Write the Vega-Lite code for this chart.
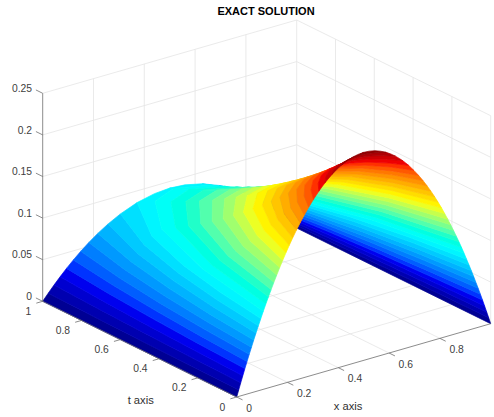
{"$schema":"https://vega.github.io/schema/vega-lite/v6.json","width":494,"height":397,"autosize":{"type":"none"},"padding":{"left":0,"right":0,"top":20,"bottom":0},"background":"white","config":{"view":{"stroke":null}},
"title":{"text":"EXACT SOLUTION","font":"Liberation Sans","fontSize":11,"fontWeight":"bold","color":"#000000","anchor":"middle","dx":19,"offset":1},
"datasets":{
"surface":[
{"b":0,"x":0,"t":0,"u":0},{"b":0,"x":0,"t":1,"u":0},{"b":0,"x":0.0217,"t":1,"u":0.0078},{"b":0,"x":0.0168,"t":0.75,"u":0.0078},{"b":0,"x":0.013,"t":0.5,"u":0.0078},{"b":0,"x":0.0101,"t":0.25,"u":0.0078},{"b":0,"x":0.0079,"t":0,"u":0.0078},
{"b":1,"x":0.0079,"t":0,"u":0.0078},{"b":1,"x":0.0101,"t":0.25,"u":0.0078},{"b":1,"x":0.013,"t":0.5,"u":0.0078},{"b":1,"x":0.0168,"t":0.75,"u":0.0078},{"b":1,"x":0.0217,"t":1,"u":0.0078},{"b":1,"x":0.0445,"t":1,"u":0.0156},{"b":1,"x":0.0343,"t":0.75,"u":0.0156},{"b":1,"x":0.0265,"t":0.5,"u":0.0156},{"b":1,"x":0.0205,"t":0.25,"u":0.0156},{"b":1,"x":0.0159,"t":0,"u":0.0156},
{"b":2,"x":0.0159,"t":0,"u":0.0156},{"b":2,"x":0.0205,"t":0.25,"u":0.0156},{"b":2,"x":0.0265,"t":0.5,"u":0.0156},{"b":2,"x":0.0343,"t":0.75,"u":0.0156},{"b":2,"x":0.0445,"t":1,"u":0.0156},{"b":2,"x":0.0684,"t":1,"u":0.0234},{"b":2,"x":0.0524,"t":0.75,"u":0.0234},{"b":2,"x":0.0403,"t":0.5,"u":0.0234},{"b":2,"x":0.0311,"t":0.25,"u":0.0234},{"b":2,"x":0.024,"t":0,"u":0.0234},
{"b":3,"x":0.024,"t":0,"u":0.0234},{"b":3,"x":0.0311,"t":0.25,"u":0.0234},{"b":3,"x":0.0403,"t":0.5,"u":0.0234},{"b":3,"x":0.0524,"t":0.75,"u":0.0234},{"b":3,"x":0.0684,"t":1,"u":0.0234},{"b":3,"x":0.0937,"t":1,"u":0.0313},{"b":3,"x":0.0712,"t":0.75,"u":0.0313},{"b":3,"x":0.0545,"t":0.5,"u":0.0313},{"b":3,"x":0.0419,"t":0.25,"u":0.0313},{"b":3,"x":0.0323,"t":0,"u":0.0313},
{"b":4,"x":0.0323,"t":0,"u":0.0313},{"b":4,"x":0.0419,"t":0.25,"u":0.0313},{"b":4,"x":0.0545,"t":0.5,"u":0.0313},{"b":4,"x":0.0712,"t":0.75,"u":0.0313},{"b":4,"x":0.0937,"t":1,"u":0.0313},{"b":4,"x":0.1208,"t":1,"u":0.0391},{"b":4,"x":0.091,"t":0.75,"u":0.0391},{"b":4,"x":0.0692,"t":0.5,"u":0.0391},{"b":4,"x":0.053,"t":0.25,"u":0.0391},{"b":4,"x":0.0407,"t":0,"u":0.0391},
{"b":5,"x":0.0407,"t":0,"u":0.0391},{"b":5,"x":0.053,"t":0.25,"u":0.0391},{"b":5,"x":0.0692,"t":0.5,"u":0.0391},{"b":5,"x":0.091,"t":0.75,"u":0.0391},{"b":5,"x":0.1208,"t":1,"u":0.0391},{"b":5,"x":0.1499,"t":1,"u":0.0469},{"b":5,"x":0.1117,"t":0.75,"u":0.0469},{"b":5,"x":0.0844,"t":0.5,"u":0.0469},{"b":5,"x":0.0643,"t":0.25,"u":0.0469},{"b":5,"x":0.0493,"t":0,"u":0.0469},
{"b":6,"x":0.0493,"t":0,"u":0.0469},{"b":6,"x":0.0643,"t":0.25,"u":0.0469},{"b":6,"x":0.0844,"t":0.5,"u":0.0469},{"b":6,"x":0.1117,"t":0.75,"u":0.0469},{"b":6,"x":0.1499,"t":1,"u":0.0469},{"b":6,"x":0.1816,"t":1,"u":0.0547},{"b":6,"x":0.1336,"t":0.75,"u":0.0547},{"b":6,"x":0.1002,"t":0.5,"u":0.0547},{"b":6,"x":0.076,"t":0.25,"u":0.0547},{"b":6,"x":0.0581,"t":0,"u":0.0547},
{"b":7,"x":0.0581,"t":0,"u":0.0547},{"b":7,"x":0.076,"t":0.25,"u":0.0547},{"b":7,"x":0.1002,"t":0.5,"u":0.0547},{"b":7,"x":0.1336,"t":0.75,"u":0.0547},{"b":7,"x":0.1816,"t":1,"u":0.0547},{"b":7,"x":0.2169,"t":1,"u":0.0625},{"b":7,"x":0.157,"t":0.75,"u":0.0625},{"b":7,"x":0.1167,"t":0.5,"u":0.0625},{"b":7,"x":0.088,"t":0.25,"u":0.0625},{"b":7,"x":0.067,"t":0,"u":0.0625},
{"b":8,"x":0.067,"t":0,"u":0.0625},{"b":8,"x":0.088,"t":0.25,"u":0.0625},{"b":8,"x":0.1167,"t":0.5,"u":0.0625},{"b":8,"x":0.157,"t":0.75,"u":0.0625},{"b":8,"x":0.2169,"t":1,"u":0.0625},{"b":8,"x":0.2574,"t":1,"u":0.0703},{"b":8,"x":0.182,"t":0.75,"u":0.0703},{"b":8,"x":0.1339,"t":0.5,"u":0.0703},{"b":8,"x":0.1003,"t":0.25,"u":0.0703},{"b":8,"x":0.0761,"t":0,"u":0.0703},
{"b":9,"x":0.0761,"t":0,"u":0.0703},{"b":9,"x":0.1003,"t":0.25,"u":0.0703},{"b":9,"x":0.1339,"t":0.5,"u":0.0703},{"b":9,"x":0.182,"t":0.75,"u":0.0703},{"b":9,"x":0.2574,"t":1,"u":0.0703},{"b":9,"x":0.306,"t":1,"u":0.0781},{"b":9,"x":0.2091,"t":0.75,"u":0.0781},{"b":9,"x":0.1519,"t":0.5,"u":0.0781},{"b":9,"x":0.1131,"t":0.25,"u":0.0781},{"b":9,"x":0.0854,"t":0,"u":0.0781},
{"b":10,"x":0.0854,"t":0,"u":0.0781},{"b":10,"x":0.1131,"t":0.25,"u":0.0781},{"b":10,"x":0.1519,"t":0.5,"u":0.0781},{"b":10,"x":0.2091,"t":0.75,"u":0.0781},{"b":10,"x":0.306,"t":1,"u":0.0781},{"b":10,"x":0.3718,"t":1,"u":0.0859},{"b":10,"x":0.2391,"t":0.75,"u":0.0859},{"b":10,"x":0.171,"t":0.5,"u":0.0859},{"b":10,"x":0.1263,"t":0.25,"u":0.0859},{"b":10,"x":0.095,"t":0,"u":0.0859},
{"b":11,"x":0.095,"t":0,"u":0.0859},{"b":11,"x":0.1263,"t":0.25,"u":0.0859},{"b":11,"x":0.171,"t":0.5,"u":0.0859},{"b":11,"x":0.2391,"t":0.75,"u":0.0859},{"b":11,"x":0.3718,"t":1,"u":0.0859},{"b":11,"x":0.44,"t":1,"u":0.0906},{"b":11,"x":0.5,"t":1,"u":0.092},{"b":11,"x":0.5,"t":0.981,"u":0.0938},{"b":11,"x":0.3906,"t":0.932,"u":0.0938},{"b":11,"x":0.2668,"t":0.736,"u":0.0938},{"b":11,"x":0.1665,"t":0.392,"u":0.0938},{"b":11,"x":0.1047,"t":0,"u":0.0938},
{"b":12,"x":0.1047,"t":0,"u":0.0938},{"b":12,"x":0.1665,"t":0.392,"u":0.0938},{"b":12,"x":0.2668,"t":0.736,"u":0.0938},{"b":12,"x":0.3906,"t":0.932,"u":0.0938},{"b":12,"x":0.5,"t":0.981,"u":0.0938},{"b":12,"x":0.5,"t":0.901,"u":0.1016},{"b":12,"x":0.3951,"t":0.856,"u":0.1016},{"b":12,"x":0.2755,"t":0.676,"u":0.1016},{"b":12,"x":0.1769,"t":0.36,"u":0.1016},{"b":12,"x":0.1147,"t":0,"u":0.1016},
{"b":13,"x":0.1147,"t":0,"u":0.1016},{"b":13,"x":0.1769,"t":0.36,"u":0.1016},{"b":13,"x":0.2755,"t":0.676,"u":0.1016},{"b":13,"x":0.3951,"t":0.856,"u":0.1016},{"b":13,"x":0.5,"t":0.901,"u":0.1016},{"b":13,"x":0.5,"t":0.827,"u":0.1094},{"b":13,"x":0.3994,"t":0.785,"u":0.1094},{"b":13,"x":0.2839,"t":0.62,"u":0.1094},{"b":13,"x":0.1874,"t":0.331,"u":0.1094},{"b":13,"x":0.125,"t":0,"u":0.1094},
{"b":14,"x":0.125,"t":0,"u":0.1094},{"b":14,"x":0.1874,"t":0.331,"u":0.1094},{"b":14,"x":0.2839,"t":0.62,"u":0.1094},{"b":14,"x":0.3994,"t":0.785,"u":0.1094},{"b":14,"x":0.5,"t":0.827,"u":0.1094},{"b":14,"x":0.5,"t":0.758,"u":0.1172},{"b":14,"x":0.4036,"t":0.72,"u":0.1172},{"b":14,"x":0.2923,"t":0.568,"u":0.1172},{"b":14,"x":0.1978,"t":0.303,"u":0.1172},{"b":14,"x":0.1356,"t":0,"u":0.1172},
{"b":15,"x":0.1356,"t":0,"u":0.1172},{"b":15,"x":0.1978,"t":0.303,"u":0.1172},{"b":15,"x":0.2923,"t":0.568,"u":0.1172},{"b":15,"x":0.4036,"t":0.72,"u":0.1172},{"b":15,"x":0.5,"t":0.758,"u":0.1172},{"b":15,"x":0.5,"t":0.693,"u":0.125},{"b":15,"x":0.4077,"t":0.658,"u":0.125},{"b":15,"x":0.3006,"t":0.52,"u":0.125},{"b":15,"x":0.2084,"t":0.277,"u":0.125},{"b":15,"x":0.1464,"t":0,"u":0.125},
{"b":16,"x":0.1464,"t":0,"u":0.125},{"b":16,"x":0.2084,"t":0.277,"u":0.125},{"b":16,"x":0.3006,"t":0.52,"u":0.125},{"b":16,"x":0.4077,"t":0.658,"u":0.125},{"b":16,"x":0.5,"t":0.693,"u":0.125},{"b":16,"x":0.5,"t":0.633,"u":0.1328},{"b":16,"x":0.4118,"t":0.601,"u":0.1328},{"b":16,"x":0.3088,"t":0.474,"u":0.1328},{"b":16,"x":0.2191,"t":0.253,"u":0.1328},{"b":16,"x":0.1577,"t":0,"u":0.1328},
{"b":17,"x":0.1577,"t":0,"u":0.1328},{"b":17,"x":0.2191,"t":0.253,"u":0.1328},{"b":17,"x":0.3088,"t":0.474,"u":0.1328},{"b":17,"x":0.4118,"t":0.601,"u":0.1328},{"b":17,"x":0.5,"t":0.633,"u":0.1328},{"b":17,"x":0.5,"t":0.575,"u":0.1406},{"b":17,"x":0.4157,"t":0.547,"u":0.1406},{"b":17,"x":0.317,"t":0.432,"u":0.1406},{"b":17,"x":0.2299,"t":0.23,"u":0.1406},{"b":17,"x":0.1693,"t":0,"u":0.1406},
{"b":18,"x":0.1693,"t":0,"u":0.1406},{"b":18,"x":0.2299,"t":0.23,"u":0.1406},{"b":18,"x":0.317,"t":0.432,"u":0.1406},{"b":18,"x":0.4157,"t":0.547,"u":0.1406},{"b":18,"x":0.5,"t":0.575,"u":0.1406},{"b":18,"x":0.5,"t":0.521,"u":0.1484},{"b":18,"x":0.4198,"t":0.495,"u":0.1484},{"b":18,"x":0.3252,"t":0.391,"u":0.1484},{"b":18,"x":0.2409,"t":0.209,"u":0.1484},{"b":18,"x":0.1813,"t":0,"u":0.1484},
{"b":19,"x":0.1813,"t":0,"u":0.1484},{"b":19,"x":0.2409,"t":0.209,"u":0.1484},{"b":19,"x":0.3252,"t":0.391,"u":0.1484},{"b":19,"x":0.4198,"t":0.495,"u":0.1484},{"b":19,"x":0.5,"t":0.521,"u":0.1484},{"b":19,"x":0.5,"t":0.47,"u":0.1563},{"b":19,"x":0.4238,"t":0.447,"u":0.1563},{"b":19,"x":0.3335,"t":0.353,"u":0.1563},{"b":19,"x":0.2522,"t":0.188,"u":0.1563},{"b":19,"x":0.1938,"t":0,"u":0.1563},
{"b":20,"x":0.1938,"t":0,"u":0.1563},{"b":20,"x":0.2522,"t":0.188,"u":0.1563},{"b":20,"x":0.3335,"t":0.353,"u":0.1563},{"b":20,"x":0.4238,"t":0.447,"u":0.1563},{"b":20,"x":0.5,"t":0.47,"u":0.1563},{"b":20,"x":0.5,"t":0.421,"u":0.1641},{"b":20,"x":0.4279,"t":0.4,"u":0.1641},{"b":20,"x":0.3419,"t":0.316,"u":0.1641},{"b":20,"x":0.2637,"t":0.168,"u":0.1641},{"b":20,"x":0.2069,"t":0,"u":0.1641},
{"b":21,"x":0.2069,"t":0,"u":0.1641},{"b":21,"x":0.2637,"t":0.168,"u":0.1641},{"b":21,"x":0.3419,"t":0.316,"u":0.1641},{"b":21,"x":0.4279,"t":0.4,"u":0.1641},{"b":21,"x":0.5,"t":0.421,"u":0.1641},{"b":21,"x":0.5,"t":0.375,"u":0.1719},{"b":21,"x":0.4318,"t":0.356,"u":0.1719},{"b":21,"x":0.3505,"t":0.281,"u":0.1719},{"b":21,"x":0.2757,"t":0.15,"u":0.1719},{"b":21,"x":0.2205,"t":0,"u":0.1719},
{"b":22,"x":0.2205,"t":0,"u":0.1719},{"b":22,"x":0.2757,"t":0.15,"u":0.1719},{"b":22,"x":0.3505,"t":0.281,"u":0.1719},{"b":22,"x":0.4318,"t":0.356,"u":0.1719},{"b":22,"x":0.5,"t":0.375,"u":0.1719},{"b":22,"x":0.5,"t":0.33,"u":0.1797},{"b":22,"x":0.436,"t":0.314,"u":0.1797},{"b":22,"x":0.3593,"t":0.248,"u":0.1797},{"b":22,"x":0.288,"t":0.132,"u":0.1797},{"b":22,"x":0.2348,"t":0,"u":0.1797},
{"b":23,"x":0.2348,"t":0,"u":0.1797},{"b":23,"x":0.288,"t":0.132,"u":0.1797},{"b":23,"x":0.3593,"t":0.248,"u":0.1797},{"b":23,"x":0.436,"t":0.314,"u":0.1797},{"b":23,"x":0.5,"t":0.33,"u":0.1797},{"b":23,"x":0.5,"t":0.288,"u":0.1875},{"b":23,"x":0.4402,"t":0.273,"u":0.1875},{"b":23,"x":0.3683,"t":0.216,"u":0.1875},{"b":23,"x":0.3009,"t":0.115,"u":0.1875},{"b":23,"x":0.25,"t":0,"u":0.1875},
{"b":24,"x":0.25,"t":0,"u":0.1875},{"b":24,"x":0.3009,"t":0.115,"u":0.1875},{"b":24,"x":0.3683,"t":0.216,"u":0.1875},{"b":24,"x":0.4402,"t":0.273,"u":0.1875},{"b":24,"x":0.5,"t":0.288,"u":0.1875},{"b":24,"x":0.5,"t":0.247,"u":0.1953},{"b":24,"x":0.4445,"t":0.235,"u":0.1953},{"b":24,"x":0.3776,"t":0.185,"u":0.1953},{"b":24,"x":0.3145,"t":0.099,"u":0.1953},{"b":24,"x":0.2661,"t":0,"u":0.1953},
{"b":25,"x":0.2661,"t":0,"u":0.1953},{"b":25,"x":0.3145,"t":0.099,"u":0.1953},{"b":25,"x":0.3776,"t":0.185,"u":0.1953},{"b":25,"x":0.4445,"t":0.235,"u":0.1953},{"b":25,"x":0.5,"t":0.247,"u":0.1953},{"b":25,"x":0.5,"t":0.208,"u":0.2031},{"b":25,"x":0.4493,"t":0.197,"u":0.2031},{"b":25,"x":0.3875,"t":0.156,"u":0.2031},{"b":25,"x":0.3289,"t":0.083,"u":0.2031},{"b":25,"x":0.2835,"t":0,"u":0.2031},
{"b":26,"x":0.2835,"t":0,"u":0.2031},{"b":26,"x":0.3289,"t":0.083,"u":0.2031},{"b":26,"x":0.3875,"t":0.156,"u":0.2031},{"b":26,"x":0.4493,"t":0.197,"u":0.2031},{"b":26,"x":0.5,"t":0.208,"u":0.2031},{"b":26,"x":0.5,"t":0.17,"u":0.2109},{"b":26,"x":0.4539,"t":0.161,"u":0.2109},{"b":26,"x":0.398,"t":0.127,"u":0.2109},{"b":26,"x":0.3444,"t":0.068,"u":0.2109},{"b":26,"x":0.3024,"t":0,"u":0.2109},
{"b":27,"x":0.3024,"t":0,"u":0.2109},{"b":27,"x":0.3444,"t":0.068,"u":0.2109},{"b":27,"x":0.398,"t":0.127,"u":0.2109},{"b":27,"x":0.4539,"t":0.161,"u":0.2109},{"b":27,"x":0.5,"t":0.17,"u":0.2109},{"b":27,"x":0.5,"t":0.134,"u":0.2188},{"b":27,"x":0.4591,"t":0.127,"u":0.2188},{"b":27,"x":0.4094,"t":0.1,"u":0.2188},{"b":27,"x":0.3613,"t":0.053,"u":0.2188},{"b":27,"x":0.3232,"t":0,"u":0.2188},
{"b":28,"x":0.3232,"t":0,"u":0.2188},{"b":28,"x":0.3613,"t":0.053,"u":0.2188},{"b":28,"x":0.4094,"t":0.1,"u":0.2188},{"b":28,"x":0.4591,"t":0.127,"u":0.2188},{"b":28,"x":0.5,"t":0.134,"u":0.2188},{"b":28,"x":0.5,"t":0.098,"u":0.2266},{"b":28,"x":0.465,"t":0.093,"u":0.2266},{"b":28,"x":0.4221,"t":0.074,"u":0.2266},{"b":28,"x":0.3803,"t":0.039,"u":0.2266},{"b":28,"x":0.3469,"t":0,"u":0.2266},{"b":28,"x":0.335,"t":0,"u":0.2228},
{"b":29,"x":0.3469,"t":0,"u":0.2266},{"b":29,"x":0.3803,"t":0.039,"u":0.2266},{"b":29,"x":0.4221,"t":0.074,"u":0.2266},{"b":29,"x":0.465,"t":0.093,"u":0.2266},{"b":29,"x":0.5,"t":0.098,"u":0.2266},{"b":29,"x":0.5,"t":0.065,"u":0.2344},{"b":29,"x":0.4717,"t":0.061,"u":0.2344},{"b":29,"x":0.4368,"t":0.048,"u":0.2344},{"b":29,"x":0.4025,"t":0.026,"u":0.2344},{"b":29,"x":0.375,"t":0,"u":0.2344},{"b":29,"x":0.36,"t":0,"u":0.2304},
{"b":30,"x":0.375,"t":0,"u":0.2344},{"b":30,"x":0.4025,"t":0.026,"u":0.2344},{"b":30,"x":0.4368,"t":0.048,"u":0.2344},{"b":30,"x":0.4717,"t":0.061,"u":0.2344},{"b":30,"x":0.5,"t":0.065,"u":0.2344},{"b":30,"x":0.5,"t":0.032,"u":0.2422},{"b":30,"x":0.48,"t":0.03,"u":0.2422},{"b":30,"x":0.4556,"t":0.024,"u":0.2422},{"b":30,"x":0.4313,"t":0.013,"u":0.2422},{"b":30,"x":0.4116,"t":0,"u":0.2422},{"b":30,"x":0.393,"t":0,"u":0.2386},
{"b":31,"x":0.4116,"t":0,"u":0.2422},{"b":31,"x":0.4313,"t":0.013,"u":0.2422},{"b":31,"x":0.4556,"t":0.024,"u":0.2422},{"b":31,"x":0.48,"t":0.03,"u":0.2422},{"b":31,"x":0.5,"t":0.032,"u":0.2422},{"b":31,"x":0.5,"t":0,"u":0.25},{"b":31,"x":0.478,"t":0,"u":0.2495},{"b":31,"x":0.456,"t":0,"u":0.2481},{"b":31,"x":0.434,"t":0,"u":0.2456}
],
"grid":[
{"id":1,"x":0.2,"t":0,"u":0},{"id":1,"x":0.2,"t":1,"u":0},{"id":2,"x":0.4,"t":0,"u":0},{"id":2,"x":0.4,"t":1,"u":0},{"id":3,"x":0.6,"t":0,"u":0},{"id":3,"x":0.6,"t":1,"u":0},{"id":4,"x":0.8,"t":0,"u":0},{"id":4,"x":0.8,"t":1,"u":0},
{"id":5,"x":0,"t":0.2,"u":0},{"id":5,"x":1,"t":0.2,"u":0},{"id":6,"x":0,"t":0.4,"u":0},{"id":6,"x":1,"t":0.4,"u":0},{"id":7,"x":0,"t":0.6,"u":0},{"id":7,"x":1,"t":0.6,"u":0},{"id":8,"x":0,"t":0.8,"u":0},{"id":8,"x":1,"t":0.8,"u":0},
{"id":9,"x":0,"t":1,"u":0},{"id":9,"x":1,"t":1,"u":0},{"id":10,"x":1,"t":1,"u":0},{"id":10,"x":1,"t":0,"u":0},
{"id":11,"x":0,"t":1,"u":0.05},{"id":11,"x":1,"t":1,"u":0.05},{"id":12,"x":0,"t":1,"u":0.1},{"id":12,"x":1,"t":1,"u":0.1},{"id":13,"x":0,"t":1,"u":0.15},{"id":13,"x":1,"t":1,"u":0.15},{"id":14,"x":0,"t":1,"u":0.2},{"id":14,"x":1,"t":1,"u":0.2},{"id":15,"x":0,"t":1,"u":0.25},{"id":15,"x":1,"t":1,"u":0.25},
{"id":16,"x":0.2,"t":1,"u":0},{"id":16,"x":0.2,"t":1,"u":0.25},{"id":17,"x":0.4,"t":1,"u":0},{"id":17,"x":0.4,"t":1,"u":0.25},{"id":18,"x":0.6,"t":1,"u":0},{"id":18,"x":0.6,"t":1,"u":0.25},{"id":19,"x":0.8,"t":1,"u":0},{"id":19,"x":0.8,"t":1,"u":0.25},{"id":20,"x":1,"t":1,"u":0},{"id":20,"x":1,"t":1,"u":0.25},
{"id":21,"x":1,"t":1,"u":0.05},{"id":21,"x":1,"t":0,"u":0.05},{"id":22,"x":1,"t":1,"u":0.1},{"id":22,"x":1,"t":0,"u":0.1},{"id":23,"x":1,"t":1,"u":0.15},{"id":23,"x":1,"t":0,"u":0.15},{"id":24,"x":1,"t":1,"u":0.2},{"id":24,"x":1,"t":0,"u":0.2},{"id":25,"x":1,"t":1,"u":0.25},{"id":25,"x":1,"t":0,"u":0.25},
{"id":26,"x":1,"t":0.8,"u":0},{"id":26,"x":1,"t":0.8,"u":0.25},{"id":27,"x":1,"t":0.6,"u":0},{"id":27,"x":1,"t":0.6,"u":0.25},{"id":28,"x":1,"t":0.4,"u":0},{"id":28,"x":1,"t":0.4,"u":0.25},{"id":29,"x":1,"t":0.2,"u":0},{"id":29,"x":1,"t":0.2,"u":0.25},{"id":30,"x":1,"t":0,"u":0},{"id":30,"x":1,"t":0,"u":0.25}
],
"axes":[
{"id":1,"x":0,"t":1,"u":0},{"id":1,"x":0,"t":1,"u":0.25},{"id":2,"x":0,"t":0,"u":0},{"id":2,"x":1,"t":0,"u":0},{"id":3,"x":0,"t":0,"u":0},{"id":3,"x":0,"t":1,"u":0},
{"id":4,"x":0,"t":1,"u":0},{"id":4,"x":0,"t":1.035,"u":0},{"id":5,"x":0,"t":1,"u":0.05},{"id":5,"x":0,"t":1.035,"u":0.05},{"id":6,"x":0,"t":1,"u":0.1},{"id":6,"x":0,"t":1.035,"u":0.1},{"id":7,"x":0,"t":1,"u":0.15},{"id":7,"x":0,"t":1.035,"u":0.15},{"id":8,"x":0,"t":1,"u":0.2},{"id":8,"x":0,"t":1.035,"u":0.2},{"id":9,"x":0,"t":1,"u":0.25},{"id":9,"x":0,"t":1.035,"u":0.25},
{"id":10,"x":0.2,"t":0,"u":0},{"id":10,"x":0.2,"t":-0.03,"u":0},{"id":11,"x":0.4,"t":0,"u":0},{"id":11,"x":0.4,"t":-0.03,"u":0},{"id":12,"x":0.6,"t":0,"u":0},{"id":12,"x":0.6,"t":-0.03,"u":0},{"id":13,"x":0.8,"t":0,"u":0},{"id":13,"x":0.8,"t":-0.03,"u":0},{"id":14,"x":0,"t":0,"u":0},{"id":14,"x":0,"t":-0.03,"u":0},
{"id":15,"x":0,"t":0.2,"u":0},{"id":15,"x":-0.025,"t":0.2,"u":0},{"id":16,"x":0,"t":0.4,"u":0},{"id":16,"x":-0.025,"t":0.4,"u":0},{"id":17,"x":0,"t":0.6,"u":0},{"id":17,"x":-0.025,"t":0.6,"u":0},{"id":18,"x":0,"t":0.8,"u":0},{"id":18,"x":-0.025,"t":0.8,"u":0},{"id":19,"x":0,"t":1,"u":0},{"id":19,"x":-0.025,"t":1,"u":0},{"id":20,"x":0,"t":0,"u":0},{"id":20,"x":-0.025,"t":0,"u":0}
]
},
"encoding":{"x":{"field":"px","type":"quantitative","scale":{"domain":[0,494],"nice":false,"zero":false},"axis":null},"y":{"field":"py","type":"quantitative","scale":{"domain":[417,20],"nice":false,"zero":false},"axis":null}},
"layer":[
{"data":{"name":"grid"},"transform":[{"calculate":"236.7+254*datum.x-194*datum.t","as":"px"},{"calculate":"397-73.3*datum.x-95.7*datum.t-832*datum.u","as":"py"}],"mark":{"type":"line","stroke":"#e4e4e4","strokeWidth":0.8},"encoding":{"detail":{"field":"id"}}},
{"data":{"name":"surface"},"transform":[{"window":[{"op":"row_number","as":"i"}]},{"calculate":"236.7+254*(1-datum.x)-194*datum.t","as":"px"},{"calculate":"397-73.3*(1-datum.x)-95.7*datum.t-832*datum.u","as":"py"}],"mark":{"type":"line","interpolate":"linear-closed","strokeWidth":0.7},"encoding":{"detail":{"field":"b"},"order":{"field":"i","type":"quantitative"},"stroke":{"field":"b","type":"quantitative","legend":null,"scale":{"domain":[-0.5,3.5,11.5,19.5,27.5,31.5],"range":["#000084","#0000ff","#00ffff","#ffff00","#ff0000","#800000"]}},"fill":{"field":"b","type":"quantitative","legend":null,"scale":{"domain":[-0.5,3.5,11.5,19.5,27.5,31.5],"range":["#000084","#0000ff","#00ffff","#ffff00","#ff0000","#800000"]}}}},
{"data":{"name":"surface"},"transform":[{"window":[{"op":"row_number","as":"i"}]},{"calculate":"236.7+254*datum.x-194*datum.t","as":"px"},{"calculate":"397-73.3*datum.x-95.7*datum.t-832*datum.u","as":"py"}],"mark":{"type":"line","interpolate":"linear-closed","strokeWidth":0.7},"encoding":{"detail":{"field":"b"},"order":{"field":"i","type":"quantitative"},"stroke":{"field":"b","type":"quantitative","legend":null,"scale":{"domain":[-0.5,3.5,11.5,19.5,27.5,31.5],"range":["#000084","#0000ff","#00ffff","#ffff00","#ff0000","#800000"]}},"fill":{"field":"b","type":"quantitative","legend":null,"scale":{"domain":[-0.5,3.5,11.5,19.5,27.5,31.5],"range":["#000084","#0000ff","#00ffff","#ffff00","#ff0000","#800000"]}}}},
{"data":{"name":"axes"},"transform":[{"calculate":"236.7+254*datum.x-194*datum.t","as":"px"},{"calculate":"397-73.3*datum.x-95.7*datum.t-832*datum.u","as":"py"}],"mark":{"type":"line","stroke":"#6e6e6e","strokeWidth":0.8},"encoding":{"detail":{"field":"id"}}},
{"data":{"values":[{"s":"0","x":0,"t":0,"u":0},{"s":"0.2","x":0.2,"t":0,"u":0},{"s":"0.4","x":0.4,"t":0,"u":0},{"s":"0.6","x":0.6,"t":0,"u":0},{"s":"0.8","x":0.8,"t":0,"u":0}]},"transform":[{"calculate":"236.7+254*datum.x-194*datum.t","as":"px"},{"calculate":"397-73.3*datum.x-95.7*datum.t-832*datum.u","as":"py"}],"mark":{"type":"text","font":"Liberation Sans","fontSize":10.3,"fill":"#404040","align":"left","baseline":"middle","dx":9.5,"dy":11.8},"encoding":{"text":{"field":"s"}}},
{"data":{"values":[{"s":"0","x":0,"t":0,"u":0},{"s":"0.2","x":0,"t":0.2,"u":0},{"s":"0.4","x":0,"t":0.4,"u":0},{"s":"0.6","x":0,"t":0.6,"u":0},{"s":"0.8","x":0,"t":0.8,"u":0},{"s":"1","x":0,"t":1,"u":0}]},"transform":[{"calculate":"236.7+254*datum.x-194*datum.t","as":"px"},{"calculate":"397-73.3*datum.x-95.7*datum.t-832*datum.u","as":"py"}],"mark":{"type":"text","font":"Liberation Sans","fontSize":10.3,"fill":"#404040","align":"right","baseline":"middle","dx":-11.5,"dy":10.6},"encoding":{"text":{"field":"s"}}},
{"data":{"values":[{"s":"0","x":0,"t":1,"u":0},{"s":"0.05","x":0,"t":1,"u":0.05},{"s":"0.1","x":0,"t":1,"u":0.1},{"s":"0.15","x":0,"t":1,"u":0.15},{"s":"0.2","x":0,"t":1,"u":0.2},{"s":"0.25","x":0,"t":1,"u":0.25}]},"transform":[{"calculate":"236.7+254*datum.x-194*datum.t","as":"px"},{"calculate":"397-73.3*datum.x-95.7*datum.t-832*datum.u","as":"py"}],"mark":{"type":"text","font":"Liberation Sans","fontSize":10.3,"fill":"#404040","align":"right","baseline":"middle","dx":-10.7,"dy":-4.3},"encoding":{"text":{"field":"s"}}},
{"data":{"values":[{"s":"x axis","x":0.5,"t":0,"u":0}]},"transform":[{"calculate":"236.7+254*datum.x-194*datum.t","as":"px"},{"calculate":"397-73.3*datum.x-95.7*datum.t-832*datum.u","as":"py"}],"mark":{"type":"text","font":"Liberation Sans","fontSize":11.2,"fill":"#303030","align":"center","baseline":"middle","dx":-15.7,"dy":46.6},"encoding":{"text":{"field":"s"}}},
{"data":{"values":[{"s":"t axis","x":0,"t":0.5,"u":0}]},"transform":[{"calculate":"236.7+254*datum.x-194*datum.t","as":"px"},{"calculate":"397-73.3*datum.x-95.7*datum.t-832*datum.u","as":"py"}],"mark":{"type":"text","font":"Liberation Sans","fontSize":11.2,"fill":"#303030","align":"center","baseline":"middle","dx":1,"dy":52},"encoding":{"text":{"field":"s"}}}
]}
